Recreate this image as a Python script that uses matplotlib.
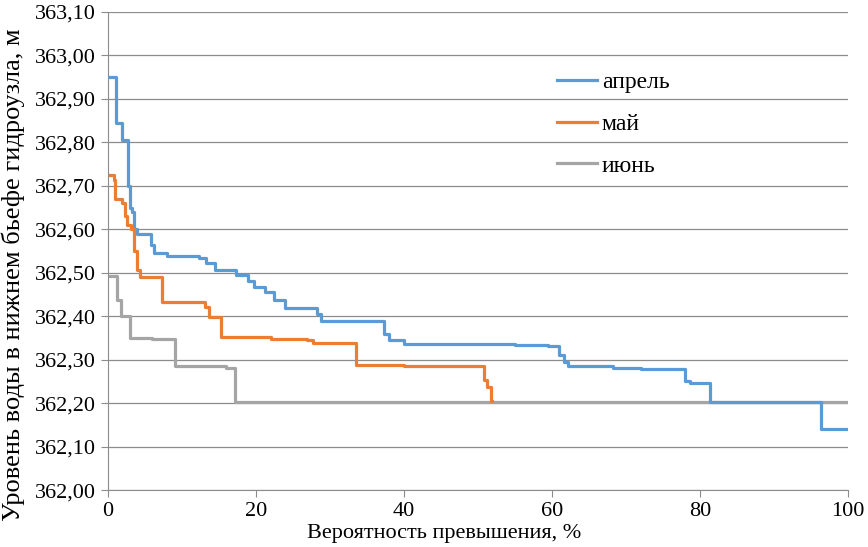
import matplotlib
matplotlib.use('Agg')
import matplotlib.pyplot as plt
from matplotlib.ticker import FuncFormatter, MultipleLocator

plt.rcParams['font.family'] = ['Liberation Serif', 'DejaVu Serif']

# step data: x where a level starts (%), level (m)
apr_x = [0.2, 1.1, 2.0, 2.7, 3.0, 3.3, 3.6, 4.0, 5.9, 6.3, 8.0, 12.4, 13.3, 14.5,
         17.3, 19.0, 19.8, 21.2, 22.5, 24.0, 28.3, 28.8, 33.0, 37.3, 38.0, 40.0,
         55.0, 59.5, 61.0, 61.6, 62.2, 68.2, 72.0, 78.0, 78.6, 81.3, 96.3, 100.0]
apr_y = [362.95, 362.845, 362.805, 362.70, 362.65, 362.64, 362.60, 362.59, 362.565,
         362.546, 362.538, 362.535, 362.523, 362.507, 362.495, 362.48, 362.468,
         362.456, 362.438, 362.42, 362.405, 362.39, 362.388, 362.36, 362.346,
         362.337, 362.335, 362.332, 362.31, 362.295, 362.285, 362.28, 362.279,
         362.25, 362.247, 362.203, 362.14, 362.14]

may_x = [0.3, 0.8, 1.0, 1.9, 2.3, 2.6, 3.2, 3.5, 3.9, 4.4, 7.4, 13.2, 13.7, 15.3,
         22.0, 26.9, 27.7, 33.5, 40.0, 50.9, 51.3, 51.8, 51.9]
may_y = [362.725, 362.714, 362.67, 362.66, 362.63, 362.61, 362.60, 362.55, 362.507,
         362.49, 362.432, 362.422, 362.398, 362.352, 362.348, 362.345, 362.339,
         362.289, 362.286, 362.254, 362.238, 362.205, 362.205]

jun_x = [0.3, 1.3, 1.8, 3.0, 6.0, 9.1, 16.0, 17.2, 100.0]
jun_y = [362.493, 362.438, 362.40, 362.35, 362.347, 362.285, 362.28, 362.203, 362.203]

fig = plt.figure(figsize=(8.68, 5.47), dpi=100)
ax = fig.add_axes([0.124, 0.104, 0.853, 0.874])

ax.plot(apr_x, apr_y, drawstyle='steps-post', color='#5B9BD5', lw=2.3, label='апрель', zorder=3)
ax.plot(may_x, may_y, drawstyle='steps-post', color='#ED7D31', lw=2.3, label='май', zorder=4)
ax.plot(jun_x, jun_y, drawstyle='steps-post', color='#A5A5A5', lw=2.3, label='июнь', zorder=2)

ax.set_xlim(0, 100)
ax.set_ylim(362.0, 363.1)
ax.xaxis.set_major_locator(MultipleLocator(20))
ax.yaxis.set_major_locator(MultipleLocator(0.1))
ax.yaxis.set_major_formatter(FuncFormatter(lambda v, p: ('%.2f' % v).replace('.', ',')))
ax.grid(axis='y', color='#8c8c8c', lw=0.9)
ax.set_axisbelow(True)
for s in ['top', 'right']:
    ax.spines[s].set_visible(False)
for s in ['left', 'bottom']:
    ax.spines[s].set_color('#8c8c8c')
ax.tick_params(colors='#8c8c8c', labelcolor='black', labelsize=16, length=5)

ax.set_xlabel('Вероятность превышения, %', fontsize=16)
ax.set_ylabel('Уровень воды в нижнем бьефе гидроузла, м', fontsize=19)
ax.xaxis.set_label_coords(0.455, -0.07)
ax.yaxis.set_label_coords(-0.112, 0.45)

ax.legend(loc='upper left', bbox_to_anchor=(0.607, 0.875), frameon=False, fontsize=17,
          handlelength=1.7, handletextpad=0.2, labelspacing=0.85,
          borderpad=0, borderaxespad=0)

fig.savefig('out.png', dpi=100)
